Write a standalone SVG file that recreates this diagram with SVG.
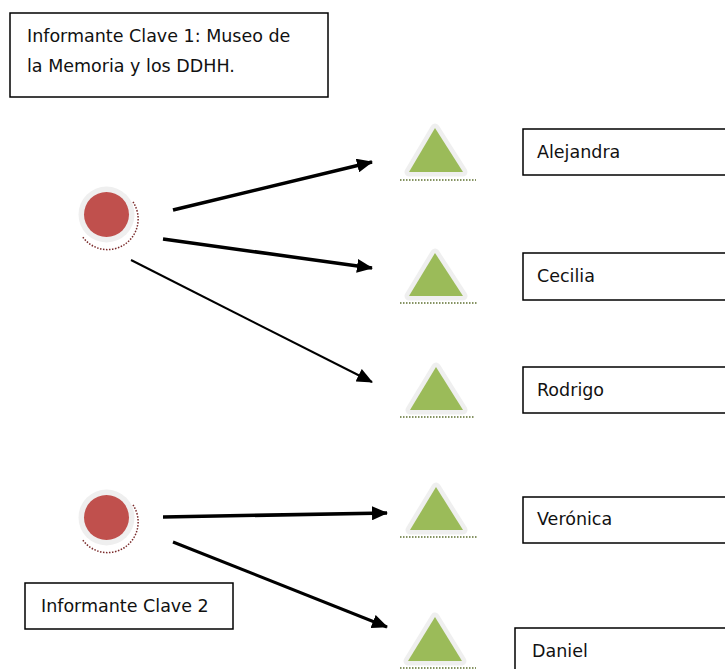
<svg xmlns="http://www.w3.org/2000/svg" width="725" height="669" viewBox="0 0 725 669">
<style>
.box{fill:#fff;stroke:#000;stroke-width:1.5}
.t{font-family:"DejaVu Sans",sans-serif;font-size:17.5px;fill:#111}
.halo{fill:#efefef;stroke:#efefef;stroke-width:9;stroke-linejoin:round}
.tri{fill:#9bbb59}
.dots{stroke:#5f7030;stroke-width:1.5;stroke-dasharray:1.5 1.5;fill:none}
.circ{fill:#c0504d}
.chalo{fill:#efefef}
.cshadow{fill:none;stroke:#7a2b2b;stroke-width:1.5;stroke-dasharray:1.5 1.5}
.conn line{stroke:#000;fill:none}
</style>
<defs>
<marker id="ah" markerUnits="userSpaceOnUse" markerWidth="16" markerHeight="14" refX="15" refY="7" orient="auto">
<path d="M0,0 L16,7 L0,14 Z" fill="#000"/>
</marker>
</defs>
<rect width="725" height="669" fill="#fff"/>

<g id="informante1-label">
<rect class="box" x="10" y="13" width="318" height="84"/>
<text class="t" x="27" y="42">Informante Clave 1: Museo de</text>
<text class="t" x="27" y="72">la Memoria y los DDHH.</text>
</g>

<g id="informante1">
<circle class="chalo" cx="106.5" cy="214.5" r="28"/>
<circle class="circ" cx="106.5" cy="214.5" r="22.5"/>
<path class="cshadow" d="M133,202 A27,27 0 0 1 82,236"/>
</g>

<g id="informante2">
<circle class="chalo" cx="106.5" cy="517.5" r="28"/>
<circle class="circ" cx="106.5" cy="517.5" r="22.5"/>
<path class="cshadow" d="M133,505 A27,27 0 0 1 82,539"/>
</g>

<g id="informante2-label">
<rect class="box" x="25" y="583" width="208" height="46"/>
<text class="t" x="41" y="612">Informante Clave 2</text>
</g>

<g id="alejandra">
<polygon class="halo" points="435,128 463,172 409,172"/>
<polygon class="tri" points="435,128 463,172 409,172"/>
<line class="dots" x1="400" y1="180" x2="476" y2="180"/>
<rect class="box" x="523" y="129" width="210" height="46"/>
<text class="t" x="537" y="158">Alejandra</text>
</g>

<g id="cecilia">
<polygon class="halo" points="435,253 463,296 409,296"/>
<polygon class="tri" points="435,253 463,296 409,296"/>
<line class="dots" x1="400" y1="303" x2="477" y2="303"/>
<rect class="box" x="523" y="253" width="210" height="47"/>
<text class="t" x="537" y="282">Cecilia</text>
</g>

<g id="rodrigo">
<polygon class="halo" points="436,367 463,410 410,410"/>
<polygon class="tri" points="436,367 463,410 410,410"/>
<line class="dots" x1="400" y1="417" x2="475" y2="417"/>
<rect class="box" x="523" y="367" width="210" height="46"/>
<text class="t" x="537" y="396">Rodrigo</text>
</g>

<g id="veronica">
<polygon class="halo" points="436,487 463,530 410,530"/>
<polygon class="tri" points="436,487 463,530 410,530"/>
<line class="dots" x1="400" y1="537" x2="477" y2="537"/>
<rect class="box" x="523" y="497" width="210" height="46"/>
<text class="t" x="537" y="525">Verónica</text>
</g>

<g id="daniel">
<polygon class="halo" points="435,617 462,661 408,661"/>
<polygon class="tri" points="435,617 462,661 408,661"/>
<line class="dots" x1="400" y1="668" x2="476" y2="668"/>
<rect class="box" x="515" y="628" width="220" height="50"/>
<text class="t" x="532" y="657">Daniel</text>
</g>

<g id="connectors" class="conn">
<line x1="173" y1="210" x2="372" y2="162" stroke-width="3.5" marker-end="url(#ah)"/>
<line x1="163" y1="239" x2="372" y2="268" stroke-width="3.5" marker-end="url(#ah)"/>
<line x1="131" y1="260" x2="372" y2="382" stroke-width="2" marker-end="url(#ah)"/>
<line x1="163" y1="517" x2="387" y2="513" stroke-width="3.5" marker-end="url(#ah)"/>
<line x1="173" y1="542" x2="387" y2="627" stroke-width="3" marker-end="url(#ah)"/>
</g>
</svg>
